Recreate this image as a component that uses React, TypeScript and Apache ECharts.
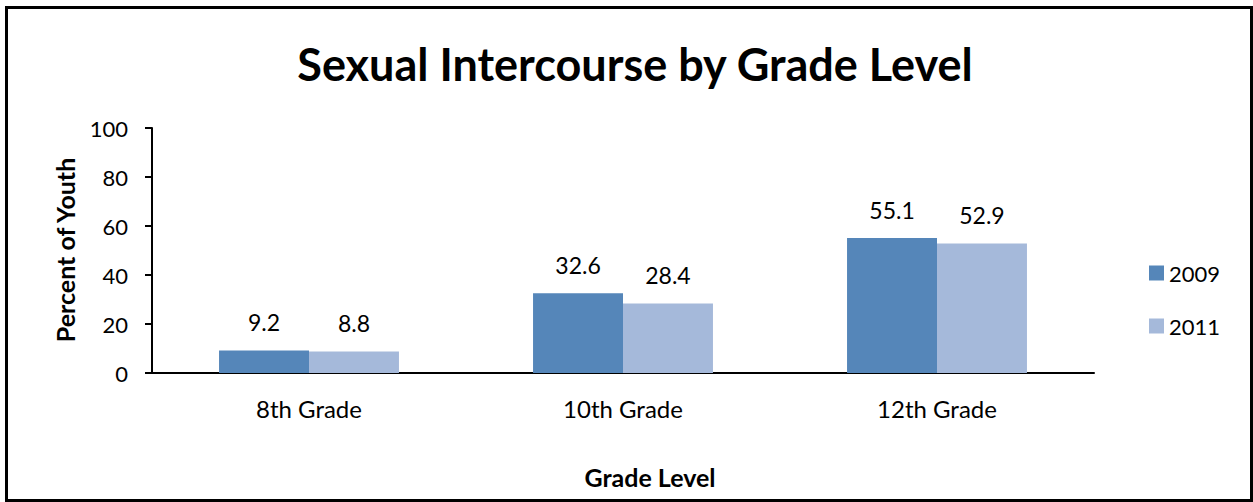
import React, { useEffect, useRef } from "react";
import * as echarts from "echarts";

const categories = ["8th Grade", "10th Grade", "12th Grade"];
const seriesNames = ["2009", "2011"];
const values2009 = [9.2, 32.6, 55.1];
const values2011 = [8.8, 28.4, 52.9];
const yTicks = { min: 0, max: 100, interval: 20 };
const titleText = "Sexual Intercourse by Grade Level";
const yAxisName = "Percent of Youth";
const xAxisName = "Grade Level";

const FONT = "Lato, 'Liberation Sans', sans-serif";

export default function App() {
  const ref = useRef<HTMLDivElement>(null);
  useEffect(() => {
    if (!ref.current) return;
    const chart = echarts.init(ref.current, null, { renderer: "svg" });
    const labelCfg = {
      show: true,
      position: "top",
      distance: 17,
      color: "#000",
      fontSize: 23,
      fontFamily: FONT,
    };
    chart.setOption({
      animation: false,
      backgroundColor: "#fff",
      textStyle: { fontFamily: FONT },
      title: {
        text: titleText,
        left: 630,
        textAlign: "center",
        top: 36,
        textStyle: { fontSize: 45, fontWeight: "bold", color: "#000", fontFamily: FONT },
      },
      legend: {
        orient: "vertical",
        left: 1144,
        top: 257,
        itemWidth: 15,
        itemHeight: 15,
        itemGap: 31,
        icon: "rect",
        textStyle: { fontSize: 22, color: "#000", fontFamily: FONT, padding: [0, 0, 0, 0] },
        data: seriesNames,
      },
      grid: { left: 152, right: 159, top: 128, height: 245, containLabel: false },
      xAxis: {
        type: "category",
        data: categories,
        axisLine: { lineStyle: { color: "#000", width: 2 } },
        axisTick: { show: false },
        axisLabel: { color: "#000", fontSize: 24, margin: 23, fontFamily: FONT },
      },
      yAxis: {
        type: "value",
        min: yTicks.min,
        max: yTicks.max,
        interval: yTicks.interval,
        axisLine: { show: true, lineStyle: { color: "#000", width: 2 } },
        axisTick: { show: true, length: 7, lineStyle: { color: "#000", width: 2 } },
        splitLine: { show: false },
        axisLabel: { color: "#000", fontSize: 22, margin: 24, fontFamily: FONT },
      },
      graphic: [
        {
          type: "rect",
          shape: { x: 6.5, y: 7.5, width: 1245, height: 493 },
          style: { fill: "none", stroke: "#000", lineWidth: 3 },
          silent: true,
        },
        {
          type: "text",
          x: 65,
          y: 250,
          rotation: Math.PI / 2,
          style: {
            text: yAxisName,
            fontSize: 25,
            fontWeight: "bold",
            fill: "#000",
            fontFamily: FONT,
            align: "center",
            verticalAlign: "middle",
          },
        },
        {
          type: "text",
          x: 650,
          y: 477,
          style: {
            text: xAxisName,
            fontSize: 25,
            fontWeight: "bold",
            fill: "#000",
            fontFamily: FONT,
            align: "center",
            verticalAlign: "middle",
          },
        },
      ],
      series: [
        {
          name: seriesNames[0],
          type: "bar",
          data: values2009,
          itemStyle: { color: "#5586B9" },
          barGap: "0%",
          barCategoryGap: "42.7%",
          label: labelCfg,
        },
        {
          name: seriesNames[1],
          type: "bar",
          data: values2011,
          itemStyle: { color: "#A5B9DA" },
          label: labelCfg,
        },
      ],
    });
    return () => chart.dispose();
  }, []);
  return (
    <div
      ref={ref}
      style={{ position: "fixed", left: 0, top: 0, width: 1253, height: 502 }}
    />
  );
}
